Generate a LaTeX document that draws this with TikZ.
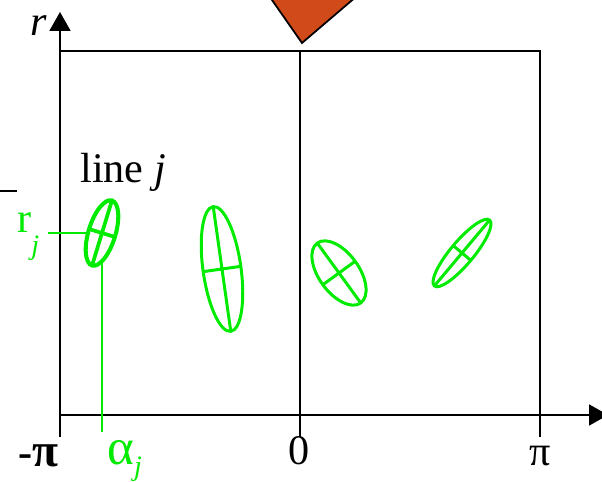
\documentclass[tikz,border=0pt]{standalone}
\usepackage{fontspec}
\setmainfont{Liberation Serif}
\usepackage{xcolor}
\usetikzlibrary{positioning, arrows.meta, shapes.geometric}
\definecolor{wedge}{RGB}{208,74,26}
\definecolor{lgreen}{RGB}{0,235,0}
\newcommand{\lowsub}[2]{\raisebox{#1}{\fontsize{16}{16}\selectfont\itshape #2}}

\begin{document}
\begin{tikzpicture}[
    x=0.02cm, y=-0.02cm,
    frame/.style={line width=1.1pt},
    axis/.style={frame, -{Triangle[length=0.38cm, width=0.42cm]}},
    blob/.style={ellipse, draw=lgreen, line width=1.7pt, inner sep=0pt, outer sep=0pt},
    cross/.style={draw=lgreen, line width=1.7pt},
    guide/.style={draw=lgreen, line width=1.1pt},
    lbl/.style={font=\fontsize{24}{28}\selectfont, inner sep=0pt}
]
\useasboundingbox (0,0) rectangle (602,482);

% orange marker at the top
\draw[line width=1pt, fill=wedge] (265,-10) -- (364,-10) -- (302,43) -- cycle;

% frame and axes
\coordinate (tl) at (60,51);
\coordinate (tr) at (540,51);
\draw[frame] (tl) -- (tr) -- (540,437);
\draw[frame] (300,51) -- (300,437);
\draw[axis] (60,437) -- (60,12);
\draw[axis] (60,415) -- (608,415);
\draw[frame] (0,191) -- (17,191);

% axis labels
\node[lbl, anchor=base east] (rlab) at (47,36) {\itshape r};
\node[lbl, anchor=base east] (mpi) at (59,467) {\textbf{-\fontsize{27}{28}\selectfont π}};
\node[lbl, anchor=base] (zero) at (299,465) {0};
\node[lbl, anchor=base] (ppi) at (540,466) {π};
\node[lbl, anchor=base west] (linej) at (80,183) {line \textit{j}};

% measured lines
\node[blob, line width=2.3pt, rotate=73, minimum width=1.36cm, minimum height=0.54cm] (e1) at (102,233) {};
\node[blob, rotate=98, minimum width=2.52cm, minimum height=0.76cm] (e2) at (222,269) {};
\node[blob, rotate=126, minimum width=1.48cm, minimum height=0.8cm] (e3) at (339,273) {};
\node[blob, rotate=50, minimum width=1.72cm, minimum height=0.46cm] (e4) at (462,253) {};

\draw[cross, line width=2.1pt] (e1.west) -- (e1.east) (e1.north) -- (e1.south);
\foreach \e in {e2,e3,e4}
  \draw[cross] (\e.west) -- (\e.east) (\e.north) -- (\e.south);

% parameters of line j
\node[lbl, anchor=base west, text=lgreen] (rj) at (17,233) {r\lowsub{-12pt}{j}};
\node[lbl, anchor=base west, text=lgreen] (aj) at (107,465) {{\fontsize{29}{30}\selectfont α}\lowsub{-6pt}{j}};
\coordinate (rjend) at (48,233);
\coordinate (ajend) at (102,432);
\draw[guide] (rjend) -- (e1);
\draw[guide] (ajend) -- (e1);

\end{tikzpicture}
\end{document}
